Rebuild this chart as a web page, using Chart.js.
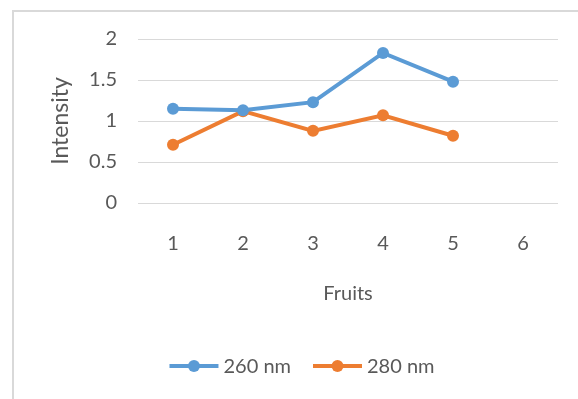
<!DOCTYPE html>
<html>
<head>
<meta charset="utf-8">
<script src="https://cdn.jsdelivr.net/npm/chart.js@4/dist/chart.umd.min.js"></script>
<style>
  html, body { margin: 0; padding: 0; background: #fff; overflow: hidden; }
  #wrap { position: relative; width: 578px; height: 399px; overflow: hidden; }
  #frame { position: absolute; left: 12px; top: 10px; width: 620px; height: 420px;
           border: 2px solid #d9d9d9; box-sizing: border-box; }
  canvas { position: absolute; left: 0; top: 0; }
</style>
</head>
<body>
<div id="wrap">
  <div id="frame"></div>
  <canvas id="chart" width="578" height="399"></canvas>
</div>
<script>
// Sample numbers (x axis) and measured intensities
const fruits = ['1', '2', '3', '4', '5', '6'];
const intensity260 = [1.15, 1.13, 1.23, 1.83, 1.48, null];
const intensity280 = [0.71, 1.12, 0.88, 1.07, 0.82, null];
const seriesNames = ['260 nm', '280 nm'];
const seriesColors = ['#5b9bd5', '#ed7d31'];

const TEXT = '#595959';
const FONT = 'Lato, "Open Sans", "Liberation Sans", sans-serif';

// Line-with-marker legend drawn under the plot
const lineLegend = {
  id: 'lineLegend',
  afterDraw(chart) {
    const ctx = chart.ctx;
    const cx = 302, cy = 366, seg = 49, gapText = 5, gapItem = 22;
    ctx.save();
    ctx.font = '20px ' + FONT;
    ctx.textBaseline = 'middle';
    const items = chart.data.datasets.map(ds => ({
      ds, w: seg + gapText + ctx.measureText(ds.label).width
    }));
    const total = items.reduce((s, it) => s + it.w, 0) + gapItem * (items.length - 1);
    let x = cx - total / 2;
    items.forEach(it => {
      ctx.strokeStyle = it.ds.borderColor;
      ctx.lineWidth = 4;
      ctx.beginPath();
      ctx.moveTo(x, cy);
      ctx.lineTo(x + seg, cy);
      ctx.stroke();
      ctx.fillStyle = it.ds.borderColor;
      ctx.beginPath();
      ctx.arc(x + seg / 2, cy, 6, 0, Math.PI * 2);
      ctx.fill();
      ctx.fillStyle = TEXT;
      ctx.fillText(it.ds.label, x + seg + gapText, cy + 1);
      x += it.w + gapItem;
    });
    ctx.restore();
  }
};

const makeSet = (label, data, color) => ({
  label, data,
  borderColor: color,
  backgroundColor: color,
  borderWidth: 4,
  pointRadius: 6,
  pointHoverRadius: 6,
  pointBorderWidth: 0,
  pointBackgroundColor: color,
  tension: 0,
  spanGaps: false
});

new Chart(document.getElementById('chart'), {
  type: 'line',
  data: {
    labels: fruits,
    datasets: [
      makeSet(seriesNames[0], intensity260, seriesColors[0]),
      makeSet(seriesNames[1], intensity280, seriesColors[1])
    ]
  },
  options: {
    responsive: false,
    animation: false,
    devicePixelRatio: 1,
    layout: { padding: { left: 0, top: 39, right: 20, bottom: 0 } },
    plugins: {
      legend: { display: false },
      tooltip: { enabled: false }
    },
    scales: {
      x: {
        offset: true,
        grid: { display: false, drawTicks: false },
        border: { display: false },
        ticks: { color: TEXT, font: { family: FONT, size: 20 }, padding: 29, maxRotation: 0 },
        title: {
          display: true, text: 'Fruits', color: TEXT,
          font: { family: FONT, size: 20 },
          padding: { top: 0, bottom: 93 }
        },
        afterFit(scale) { scale.height = 196; }
      },
      y: {
        min: 0, max: 2,
        ticks: {
          stepSize: 0.5, color: TEXT, font: { family: FONT, size: 20 }, padding: 21,
          callback: v => String(v)
        },
        grid: { color: '#d9d9d9', lineWidth: 1, drawTicks: false },
        border: { display: false },
        title: {
          display: true, text: 'Intensity', color: TEXT,
          font: { family: FONT, size: 23 },
          padding: { top: 47, bottom: 0 }
        },
        afterFit(scale) { scale.width = 138; }
      }
    }
  },
  plugins: [lineLegend]
});
</script>
</body>
</html>
